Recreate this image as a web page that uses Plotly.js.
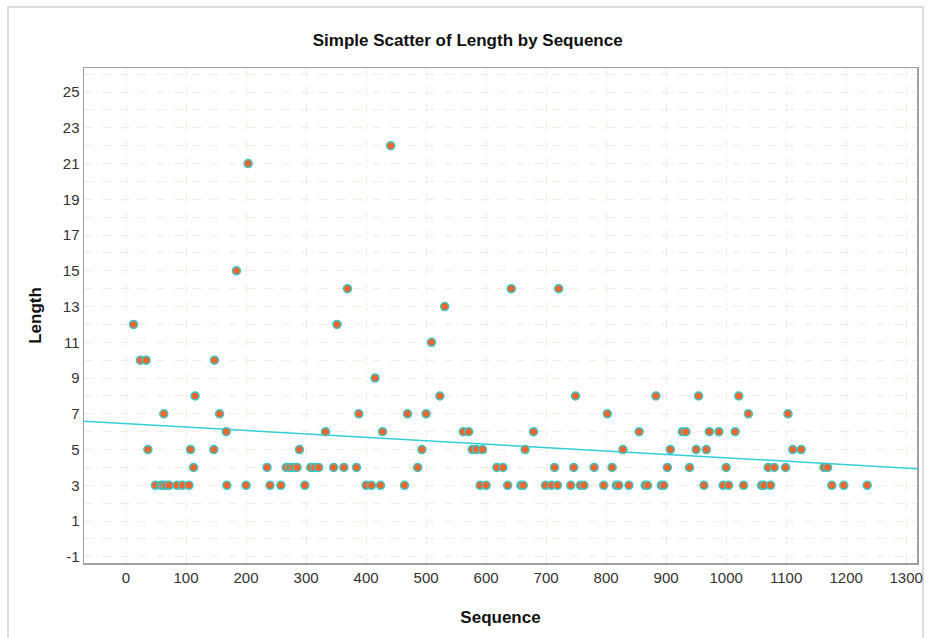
<!DOCTYPE html>
<html>
<head>
<meta charset="utf-8">
<script src="https://cdn.plot.ly/plotly-3.0.1.min.js"></script>
<style>
  html, body { margin: 0; padding: 0; background: #ffffff; width: 928px; height: 638px; overflow: hidden; }
  #frame { position: absolute; left: 7px; top: 6px; width: 917px; height: 640px; border: 2px solid #dcdcdc; box-sizing: border-box; }
  #chart { position: absolute; left: 0; top: 0; width: 928px; height: 638px; }
</style>
</head>
<body>
<div id="frame"></div>
<div id="chart"></div>
<script>
// Data
const sequence = [12.5, 24, 33.5, 36.5, 49, 58, 62, 63, 66, 72, 85, 94, 105, 107.5, 112.5, 115,
  146.3, 147.5, 156, 167, 168, 184, 200, 203.5, 235, 240, 258, 267, 273, 279, 285, 289, 298,
  308, 314, 321, 332.5, 346, 351.5, 363, 369, 384, 388, 400, 409, 415, 424, 427.5, 441, 464,
  469, 486, 493, 500, 509, 523, 531, 562, 571, 577, 584, 590, 594, 600, 618, 628, 636, 642,
  658, 662, 665, 679, 699, 709, 714, 719, 721, 741, 746, 749, 757, 763, 780, 796, 802, 810,
  817, 821, 828, 838, 855, 865, 869, 883, 892, 896, 902, 907, 927, 933, 939, 950, 954, 963,
  967, 972, 988, 995, 1000, 1004, 1015, 1021, 1029, 1037, 1059, 1063, 1070, 1074, 1080, 1099,
  1103, 1111, 1125, 1163, 1169, 1176, 1196, 1235];
const lengthVals = [12, 10, 10, 5, 3, 3, 3, 7, 3, 3, 3, 3, 3, 5, 4, 8,
  5, 10, 7, 6, 3, 15, 3, 21, 4, 3, 3, 4, 4, 4, 4, 5, 3,
  4, 4, 4, 6, 4, 12, 4, 14, 4, 7, 3, 3, 9, 3, 6, 22, 3,
  7, 4, 5, 7, 11, 8, 13, 6, 6, 5, 5, 3, 5, 3, 4, 4, 3, 14,
  3, 3, 5, 6, 3, 3, 4, 3, 14, 3, 4, 8, 3, 3, 4, 3, 7, 4,
  3, 3, 5, 3, 6, 3, 3, 8, 3, 3, 4, 5, 6, 6, 4, 5, 8, 3,
  5, 6, 6, 3, 4, 3, 6, 8, 3, 7, 3, 3, 4, 3, 4, 4,
  7, 5, 5, 4, 4, 3, 3, 3];
// Fit line end points
const fitX = [-70, 1318];
const fitY = [6.58, 3.93];
// Axis ticks
const xTicks = [0, 100, 200, 300, 400, 500, 600, 700, 800, 900, 1000, 1100, 1200, 1300];
const yTicks = [-1, 1, 3, 5, 7, 9, 11, 13, 15, 17, 19, 21, 23, 25];

const gridStyle = '#f1eee1';
const font = 'Liberation Sans, Arial, sans-serif';

const traces = [
  {
    x: fitX, y: fitY, type: 'scatter', mode: 'lines',
    line: { color: '#33d0d8', width: 1.5 }, hoverinfo: 'skip', showlegend: false
  },
  {
    x: sequence, y: lengthVals, type: 'scatter', mode: 'markers',
    marker: { color: '#f0662e', size: 8, line: { color: '#3cc8c8', width: 1.5 } },
    showlegend: false
  }
];

const layout = {
  width: 928, height: 638,
  paper_bgcolor: 'rgba(0,0,0,0)', plot_bgcolor: '#ffffff',
  margin: { l: 84, r: 11, t: 68, b: 75 },
  font: { family: font, color: '#333333', size: 15 },
  title: {
    text: '<b>Simple Scatter of Length by Sequence</b>',
    font: { family: font, size: 17, color: '#111111' },
    x: 0.504, xanchor: 'center', y: 0.937, yanchor: 'middle', xref: 'container', yref: 'container'
  },
  xaxis: {
    range: [-70, 1318], tickmode: 'array', tickvals: xTicks, ticktext: xTicks.map(String),
    showgrid: true, gridcolor: gridStyle, griddash: 'dash', gridwidth: 1,
    zeroline: false, showline: true, linecolor: '#a0a0a0', linewidth: 1.5, mirror: true,
    ticks: '', tickfont: { family: font, size: 15, color: '#333333' },
    title: { text: '<b>Sequence</b>', font: { family: font, size: 17, color: '#111111' }, standoff: 26 }
  },
  yaxis: {
    range: [-1.35, 26.35], tickmode: 'array', tickvals: yTicks, ticktext: yTicks.map(String),
    showgrid: true, gridcolor: gridStyle, griddash: 'dash', gridwidth: 1,
    minor: { dtick: 1, tick0: 0, showgrid: true, gridcolor: gridStyle, griddash: 'dash', gridwidth: 1, ticks: '' },
    zeroline: false, showline: true, linecolor: '#a0a0a0', linewidth: 1.5, mirror: true,
    ticks: '', tickfont: { family: font, size: 15, color: '#333333' },
    title: { text: '<b>Length</b>', font: { family: font, size: 17, color: '#111111' }, standoff: 17 }
  }
};

Plotly.newPlot('chart', traces, layout, { displayModeBar: false, staticPlot: true });
</script>
</body>
</html>
